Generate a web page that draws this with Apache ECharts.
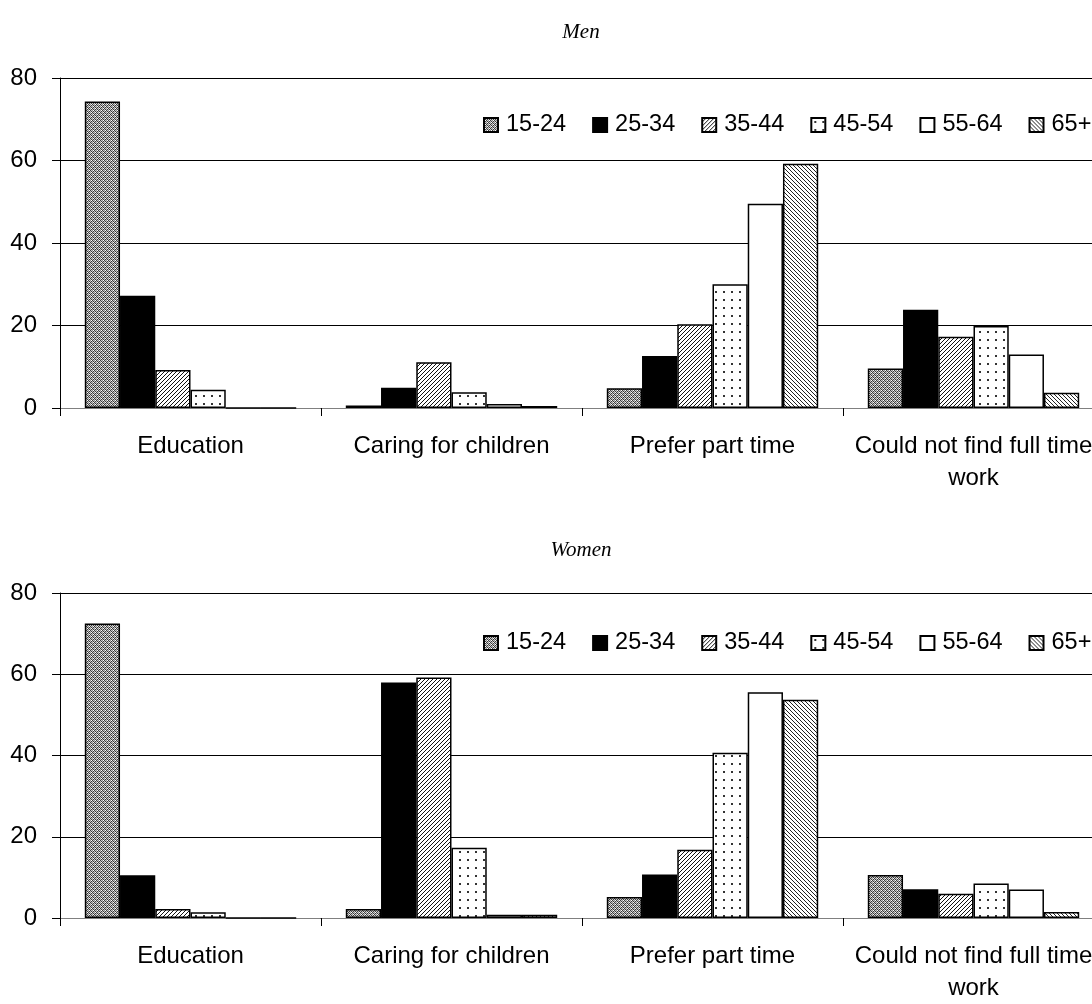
<!DOCTYPE html>
<html>
<head>
<meta charset="utf-8">
<script src="https://cdn.jsdelivr.net/npm/echarts@6/dist/echarts.min.js"></script>
<style>
html,body{margin:0;padding:0;background:#fff;overflow:hidden;width:1092px;height:1004px;}
#chart{width:1104px;height:1004px;}
</style>
</head>
<body>
<div id="chart"></div>
<script>
var categories = ['Education', 'Caring for children', 'Prefer part time', 'Could not find full time\nwork'];
var ageGroups = ['15-24', '25-34', '35-44', '45-54', '55-64', '65+'];
var yTicks = [0, 20, 40, 60, 80];

// Men: one array per age group, values per category
var men15_24 = [74.3, 0.6, 4.8, 9.6];
var men25_34 = [27.2, 4.9, 12.6, 23.8];
var men35_44 = [9.2, 11.1, 20.3, 17.3];
var men45_54 = [4.4, 3.8, 30.0, 19.9];
var men55_64 = [0, 1.0, 49.5, 13.0];
var men65p   = [0, 0.5, 59.2, 3.7];

// Women
var women15_24 = [72.5, 2.2, 5.2, 10.6];
var women25_34 = [10.5, 58.0, 10.7, 7.1];
var women35_44 = [2.2, 59.2, 16.8, 6.0];
var women45_54 = [1.4, 17.3, 40.7, 8.5];
var women55_64 = [0, 0.8, 55.6, 7.0];
var women65p   = [0, 0.8, 53.7, 1.5];

function makeTile(w, h, draw) {
  var c = document.createElement('canvas');
  c.width = w; c.height = h;
  var ctx = c.getContext('2d');
  ctx.fillStyle = '#fff';
  ctx.fillRect(0, 0, w, h);
  draw(ctx);
  return c;
}
function px(ctx, x, y, col) { ctx.fillStyle = col || '#000'; ctx.fillRect(x, y, 1, 1); }

var patCross = makeTile(4, 4, function (ctx) {
  for (var y = 0; y < 4; y++) for (var x = 0; x < 4; x++) {
    if ((x + y) % 2 === 0) px(ctx, x, y, '#3a3a3a');
    else px(ctx, x, y, '#c8c8c8');
  }
  px(ctx, 1, 2, '#fff'); px(ctx, 3, 0, '#fff'); px(ctx, 0, 2, '#888'); px(ctx, 2, 0, '#888');
});
var patFwd = makeTile(4, 4, function (ctx) {
  px(ctx, 0, 3, '#111'); px(ctx, 1, 2, '#111'); px(ctx, 2, 1, '#111'); px(ctx, 3, 0, '#111');
});
var patDots = makeTile(8, 8, function (ctx) {
  ctx.fillStyle = '#333';
  ctx.fillRect(3, 3, 2, 2);
});
var patBack = makeTile(4, 4, function (ctx) {
  px(ctx, 0, 0, '#222'); px(ctx, 1, 1, '#222'); px(ctx, 2, 2, '#222'); px(ctx, 3, 3, '#222');
});

var fills = [
  { image: patCross, repeat: 'repeat' },
  '#000',
  { image: patFwd, repeat: 'repeat' },
  { image: patDots, repeat: 'repeat' },
  '#fff',
  { image: patBack, repeat: 'repeat' }
];

var menData = [men15_24, men25_34, men35_44, men45_54, men55_64, men65p];
var womenData = [women15_24, women25_34, women35_44, women45_54, women55_64, women65p];

var FONT = 'Liberation Sans, Arial, sans-serif';

var grids = [
  { left: 60, right: 0, top: 78, height: 330 },
  { left: 60, right: 0, top: 593, height: 334 }
];

function xAxis(gi) {
  return {
    type: 'category', gridIndex: gi, data: categories,
    axisLine: { lineStyle: { color: '#808080', width: 1 } },
    axisTick: { show: true, length: 8, lineStyle: { color: '#000' } },
    axisLabel: { interval: 0, color: '#000', fontSize: 24, fontFamily: FONT, margin: 22, lineHeight: 32 }
  };
}
function yAxis(gi) {
  return {
    type: 'value', gridIndex: gi, min: yTicks[0], max: yTicks[yTicks.length - 1], interval: 20,
    axisLine: { show: true, lineStyle: { color: '#000' } },
    axisTick: { show: true, length: 8, lineStyle: { color: '#000' } },
    axisLabel: { color: '#000', fontSize: 24, fontFamily: FONT, margin: 23 },
    splitLine: { show: true, lineStyle: { color: '#000', width: 1 } }
  };
}

var series = [];
[menData, womenData].forEach(function (set, gi) {
  set.forEach(function (vals, i) {
    series.push({
      name: ageGroups[i], type: 'bar', xAxisIndex: gi, yAxisIndex: gi,
      data: vals, barGap: 0, barCategoryGap: '19%',
      itemStyle: { color: fills[i], borderColor: '#000', borderWidth: 1.5 },
      emphasis: { disabled: true },
      silent: true
    });
  });
});

function legend(top) {
  return {
    data: ageGroups, left: 478, top: top, width: 700, itemWidth: 14, itemHeight: 14, itemGap: 26,
    icon: 'rect',
    textStyle: { color: '#000', fontSize: 23.5, fontFamily: FONT, padding: [0, 0, 0, 3] },
    selectedMode: false
  };
}

var chart = echarts.init(document.getElementById('chart'), null, { renderer: 'canvas' });
chart.setOption({
  animation: false,
  backgroundColor: '#fff',
  title: [
    { text: 'Men', left: 576, top: 17, textAlign: 'center', textStyle: { fontFamily: 'Liberation Serif, Times New Roman, serif', fontStyle: 'italic', fontWeight: 'normal', fontSize: 21, color: '#000' } },
    { text: 'Women', left: 576, top: 535, textAlign: 'center', textStyle: { fontFamily: 'Liberation Serif, Times New Roman, serif', fontStyle: 'italic', fontWeight: 'normal', fontSize: 21, color: '#000' } }
  ],
  legend: [legend(108), legend(626)],
  grid: grids,
  xAxis: [xAxis(0), xAxis(1)],
  yAxis: [yAxis(0), yAxis(1)],
  series: series
});
</script>
</body>
</html>
